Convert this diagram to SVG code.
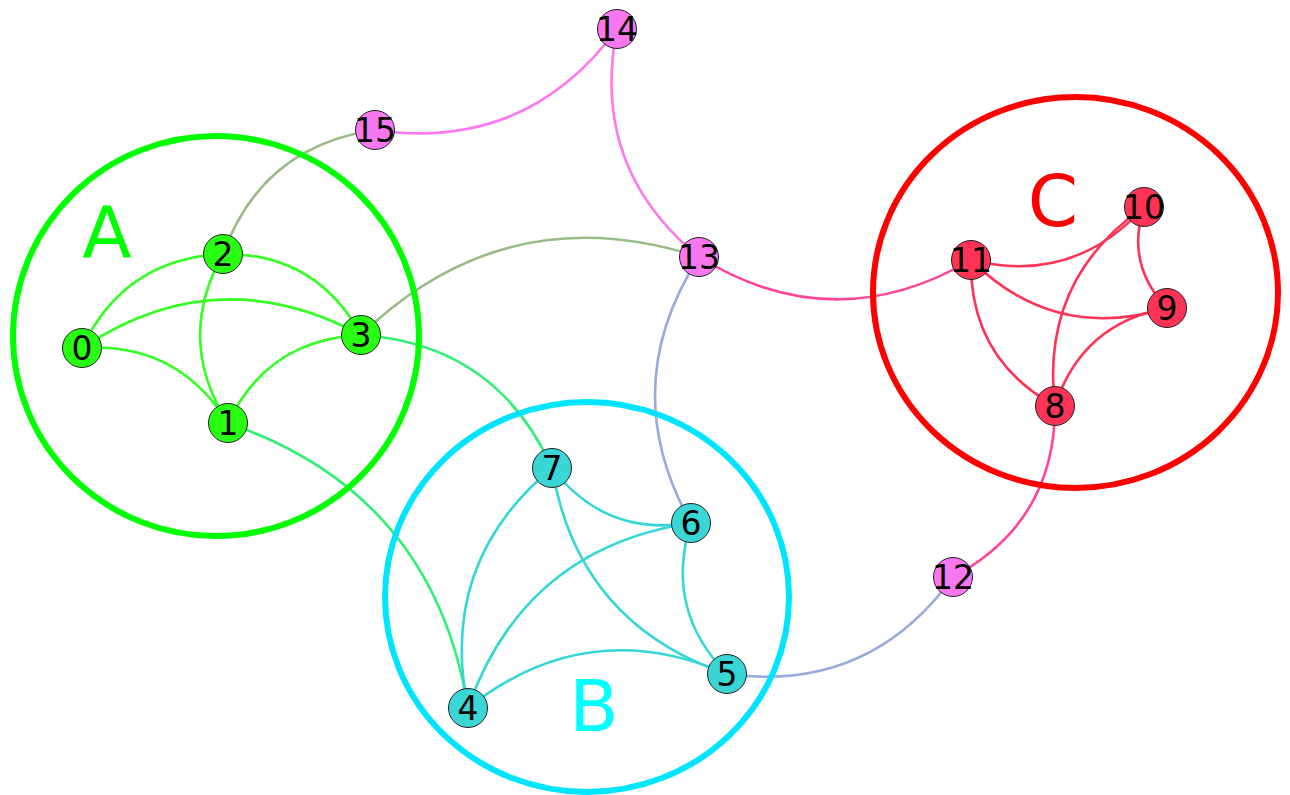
<svg xmlns="http://www.w3.org/2000/svg" width="1290" height="795" viewBox="0 0 1290 795">
<style>
.e{fill:none;stroke-width:2.6}
.ga{stroke:#33ff22}
.gb{stroke:#35d6d6}
.gc{stroke:#ff3355}
.gp{stroke:#ff77ee}
.gs{stroke:#99bb88}
.gt{stroke:#33ee77}
.gl{stroke:#99aadd}
.gr{stroke:#ff4499}
.grp{fill:none;stroke-width:6}
.n circle{stroke:#222;stroke-width:1}
.n text{font-family:"DejaVu Sans",sans-serif;font-size:33px;text-anchor:middle;fill:#000}
.lbl{font-family:"DejaVu Sans",sans-serif;font-size:72px;text-anchor:middle}
.na{fill:#29ff13}.nb{fill:#3ad6d6}.nc{fill:#ff3355}.np{fill:#f778ee}
</style>
<g id="connectors">
<path class="e ga" d="M82,348 Q124.3,258.7 223,254"/>
<path class="e ga" d="M82,348 Q217.6,257.8 361,335"/>
<path class="e ga" d="M82,348 Q177.5,341.7 228,423"/>
<path class="e ga" d="M228,423 Q174.8,340 223,254"/>
<path class="e ga" d="M223,254 Q316.3,253.1 361,335"/>
<path class="e ga" d="M228,423 Q268.1,339.1 361,335"/>
<path class="e gs" d="M223,254 Q261.8,146.4 375,130"/>
<path class="e gs" d="M361,335 Q506.6,194.6 699,257"/>
<path class="e gt" d="M361,335 Q496.4,344.2 552,468"/>
<path class="e gt" d="M228,423 Q433.5,493.5 468,708"/>
<path class="e gb" d="M468,708 Q438,562.8 552,468"/>
<path class="e gb" d="M691,523 Q605,537.2 552,468"/>
<path class="e gb" d="M727,674 Q577.7,623.5 552,468"/>
<path class="e gb" d="M468,708 Q524,548.6 691,523"/>
<path class="e gb" d="M727,674 Q663.7,609.3 691,523"/>
<path class="e gb" d="M468,708 Q587.3,613.3 727,674"/>
<path class="e gl" d="M691,523 Q615.2,387.6 699,257"/>
<path class="e gl" d="M953,577 Q869.1,693.3 727,674"/>
<path class="e gp" d="M617,29 Q526.3,152.1 375,130"/>
<path class="e gp" d="M699,257 Q589.6,167.6 617,29"/>
<path class="e gr" d="M971,260 Q834.1,340.1 699,257"/>
<path class="e gr" d="M1055,406 Q1055.3,522.1 953,577"/>
<path class="e gc" d="M1144,207 Q1073.4,285.4 971,260"/>
<path class="e gc" d="M1167,308 Q1054.6,342.8 971,260"/>
<path class="e gc" d="M1055,406 Q969.2,358.2 971,260"/>
<path class="e gc" d="M1167,308 Q1125.2,264.4 1144,207"/>
<path class="e gc" d="M1055,406 Q1039.8,279.8 1144,207"/>
<path class="e gc" d="M1055,406 Q1081.6,323.4 1167,308"/>
</g>
<g id="group-A">
<ellipse class="grp" cx="216" cy="336" rx="203" ry="200" stroke="#00ff00"/>
<text class="lbl" x="107" y="257" fill="#00ff00">A</text>
</g>
<g id="group-B">
<ellipse class="grp" cx="587" cy="597" rx="202" ry="195" stroke="#00e5ff"/>
<text class="lbl" x="594" y="731" fill="#00ffff">B</text>
</g>
<g id="group-C">
<ellipse class="grp" cx="1075.5" cy="292.5" rx="202.5" ry="195.5" stroke="#ff0000"/>
<text class="lbl" x="1053" y="226" fill="#ff0000">C</text>
</g>
<g id="node0" class="n"><circle class="na" cx="82" cy="348" r="19.5"/><text x="82" y="360">0</text></g>
<g id="node1" class="n"><circle class="na" cx="228" cy="423" r="19.5"/><text x="228" y="435">1</text></g>
<g id="node2" class="n"><circle class="na" cx="223" cy="254" r="19.5"/><text x="223" y="266">2</text></g>
<g id="node3" class="n"><circle class="na" cx="361" cy="335" r="19.5"/><text x="361" y="347">3</text></g>
<g id="node4" class="n"><circle class="nb" cx="468" cy="708" r="19.5"/><text x="468" y="720">4</text></g>
<g id="node5" class="n"><circle class="nb" cx="727" cy="674" r="19.5"/><text x="727" y="686">5</text></g>
<g id="node6" class="n"><circle class="nb" cx="691" cy="523" r="19.5"/><text x="691" y="535">6</text></g>
<g id="node7" class="n"><circle class="nb" cx="552" cy="468" r="19.5"/><text x="552" y="480">7</text></g>
<g id="node8" class="n"><circle class="nc" cx="1055" cy="406" r="19.5"/><text x="1055" y="418">8</text></g>
<g id="node9" class="n"><circle class="nc" cx="1167" cy="308" r="19.5"/><text x="1167" y="320">9</text></g>
<g id="node10" class="n"><circle class="nc" cx="1144" cy="207" r="19.5"/><text x="1144" y="219">10</text></g>
<g id="node11" class="n"><circle class="nc" cx="971" cy="260" r="19.5"/><text x="971" y="272">11</text></g>
<g id="node12" class="n"><circle class="np" cx="953" cy="577" r="19.5"/><text x="953" y="589">12</text></g>
<g id="node13" class="n"><circle class="np" cx="699" cy="257" r="19.5"/><text x="699" y="269">13</text></g>
<g id="node14" class="n"><circle class="np" cx="617" cy="29" r="19.5"/><text x="617" y="41">14</text></g>
<g id="node15" class="n"><circle class="np" cx="375" cy="130" r="19.5"/><text x="375" y="142">15</text></g>
</svg>
